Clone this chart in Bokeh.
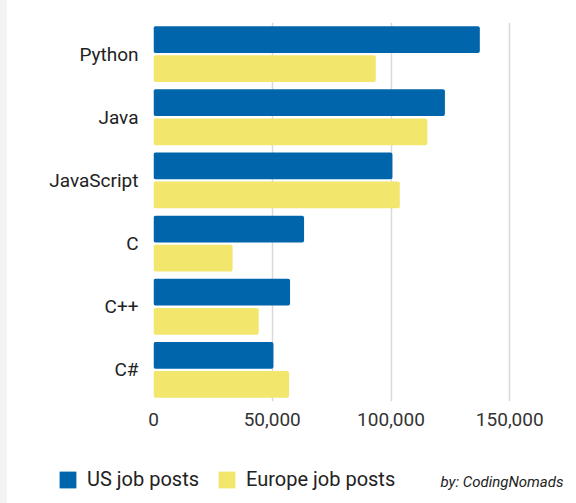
from bokeh.plotting import figure
from bokeh.models import (ColumnDataSource, FactorRange, Range1d, FixedTicker,
                          NumeralTickFormatter, Legend, LegendItem, Label, Spacer)
from bokeh.transform import dodge
from bokeh.layouts import row, column
from bokeh.embed import file_html
from bokeh.resources import INLINE

languages = ["Python", "Java", "JavaScript", "C", "C++", "C#"]
us_posts = [137400, 122700, 100600, 63400, 57500, 50500]
europe_posts = [93600, 115300, 103700, 33300, 44300, 57100]
x_ticks = [0, 50000, 100000, 150000]
series_names = ["US job posts", "Europe job posts"]
byline = "by: CodingNomads"

US_COLOR = "#0065aa"
EU_COLOR = "#f3e66c"
FONT = "Roboto"

src = ColumnDataSource(dict(lang=languages, us=us_posts, eu=europe_posts))

p = figure(width=569, height=440, output_backend="svg", toolbar_location=None,
           y_range=FactorRange(factors=list(reversed(languages))),
           x_range=Range1d(0, 160000),
           min_border_left=146, min_border_right=43,
           min_border_top=22, min_border_bottom=39)
p.outline_line_color = None
p.frame_align = False

r_us = p.hbar(y=dodge("lang", 0.23, range=p.y_range), right="us", left=0, height=0.424,
              source=src, fill_color=US_COLOR, line_color=None, border_radius=2)
r_eu = p.hbar(y=dodge("lang", -0.23, range=p.y_range), right="eu", left=0, height=0.424,
              source=src, fill_color=EU_COLOR, line_color=None, border_radius=2)

p.xaxis.ticker = FixedTicker(ticks=x_ticks)
p.xaxis.formatter = NumeralTickFormatter(format="0,0")
for ax in (p.xaxis[0], p.yaxis[0]):
    ax.axis_line_color = None
    ax.major_tick_line_color = None
    ax.minor_tick_line_color = None
    ax.major_label_text_font = FONT
    ax.major_label_text_font_size = "19px"
    ax.major_label_text_color = "#222222"
p.xaxis.major_label_standoff = 5
p.yaxis.major_label_standoff = 9
p.xaxis.major_label_text_color = "#333333"

p.ygrid.grid_line_color = None
p.xgrid.grid_line_color = "#d9d9d9"
p.xgrid.grid_line_width = 1.5

# footer with legend and byline
f = figure(width=569, height=63, output_backend="svg", toolbar_location=None,
           x_range=Range1d(0, 1), y_range=Range1d(0, 1),
           min_border_left=0, min_border_right=0, min_border_top=0, min_border_bottom=0,
           x_axis_location=None, y_axis_location=None)
f.frame_align = False
f.outline_line_color = None
f.xgrid.visible = False
f.ygrid.visible = False
# legend keys: same series, hidden in the footer (only the legend swatch shows)
k_us = f.hbar(y=0.5, right="us", left=0, height=0.5, source=src,
              fill_color=US_COLOR, line_color=None, visible=False)
k_eu = f.hbar(y=0.5, right="eu", left=0, height=0.5, source=src,
              fill_color=EU_COLOR, line_color=None, visible=False)

legend = Legend(items=[LegendItem(label=series_names[0], renderers=[k_us], index=0),
                       LegendItem(label=series_names[1], renderers=[k_eu], index=0)],
                orientation="horizontal", location=(50, 12),
                glyph_width=21, glyph_height=21, label_standoff=9, spacing=17,
                padding=0, margin=0, border_line_color=None,
                background_fill_alpha=0, inactive_fill_alpha=0,
                label_text_font=FONT, label_text_font_size="20px",
                label_text_color="#222222", label_height=21)
f.add_layout(legend, "center")

lbl = Label(x=556, y=22, x_units="screen", y_units="screen", text=byline,
            text_font=FONT, text_font_style="italic", text_font_size="15px",
            text_color="#222222", text_align="right", text_baseline="middle")
f.add_layout(lbl)

gap = Spacer(width=7, height=503, styles={"background-color": "#f3f3f3"})
layout = row(gap, column(p, f, spacing=0), spacing=0)

open("out.html", "w").write(file_html(layout, INLINE))
